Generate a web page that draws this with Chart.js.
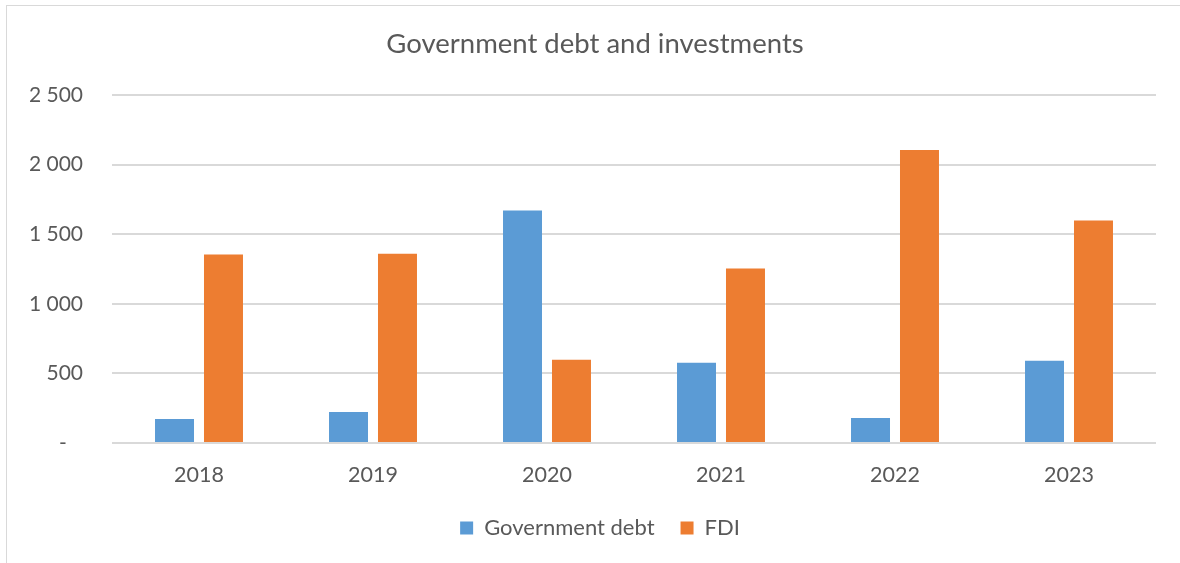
<!DOCTYPE html>
<html>
<head>
<meta charset="utf-8">
<script src="https://cdn.jsdelivr.net/npm/chart.js@4.4.1/dist/chart.umd.min.js"></script>
<style>
  html, body { margin: 0; padding: 0; background: #fff; overflow: hidden; }
  #frame { position: absolute; left: 6px; top: 5px; width: 1300px; height: 700px;
           border: 1px solid #d9d9d9; box-sizing: border-box; }
  #wrap { position: absolute; left: 0; top: 0; width: 1180px; height: 563px; }
</style>
</head>
<body>
<div id="frame"></div>
<div id="wrap"><canvas id="chart" width="1180" height="563"></canvas></div>
<script>
/* Government debt and investments — grouped bar chart */

const YEARS    = ['2018', '2019', '2020', '2021', '2022', '2023'];
const GOV_DEBT = [173, 223, 1671, 576, 180, 591];
const FDI      = [1354, 1360, 598, 1254, 2104, 1599];
const Y_TICKS  = ['-   ', '500', '1 000', '1 500', '2 000', '2 500'];

const BLUE   = '#5b9bd5';
const ORANGE = '#ed7d31';
const GRID   = '#d9d9d9';
const TEXT   = '#595959';
const FONT   = 'Lato, "Open Sans", sans-serif';

// Excel centres title/legend on its own frame, a bit right of the canvas centre
const shiftBlocks = {
    id: 'shiftBlocks',
    afterLayout(chart) {
        const t = chart.titleBlock, l = chart.legend;
        if (t) { t.left += 17; t.right += 17; }
        if (l) { l.left += 22; l.right += 22; }
    },
};

new Chart(document.getElementById('chart'), {
    type: 'bar',
    plugins: [shiftBlocks],
    data: {
        labels: YEARS,
        datasets: [
            { label: 'Government debt', data: GOV_DEBT, backgroundColor: BLUE },
            { label: 'FDI',             data: FDI,      backgroundColor: ORANGE },
        ],
    },
    options: {
        responsive: false,
        animation: false,
        devicePixelRatio: 1,
        categoryPercentage: 0.563,
        barPercentage: 0.796,
        layout: { padding: { left: 0, right: 24, top: 0, bottom: 14 } },
        plugins: {
            title: {
                display: true,
                text: 'Government debt and investments',
                color: TEXT,
                font: { family: FONT, size: 27.5, weight: 'normal' },
                padding: { top: 28, bottom: 34 },
            },
            legend: {
                position: 'bottom',
                labels: {
                    color: TEXT,
                    boxWidth: 13, boxHeight: 13,
                    padding: 26,
                    font: { family: FONT, size: 22 },
                },
            },
            tooltip: { enabled: false },
        },
        scales: {
            x: {
                grid: { display: false },
                border: { display: false },
                ticks: { color: TEXT, font: { family: FONT, size: 21.5 }, padding: 11 },
                afterFit(scale) { scale.height = 48; },
            },
            y: {
                min: 0, max: 2500,
                ticks: {
                    stepSize: 500,
                    color: TEXT,
                    font: { family: FONT, size: 21 },
                    padding: 29,
                    callback: (v, i) => Y_TICKS[i],
                },
                grid: { color: GRID, lineWidth: 2, drawTicks: false },
                border: { display: false },
                afterFit(scale) { scale.width = 112; },
            },
        },
    },
});
</script>
</body>
</html>
